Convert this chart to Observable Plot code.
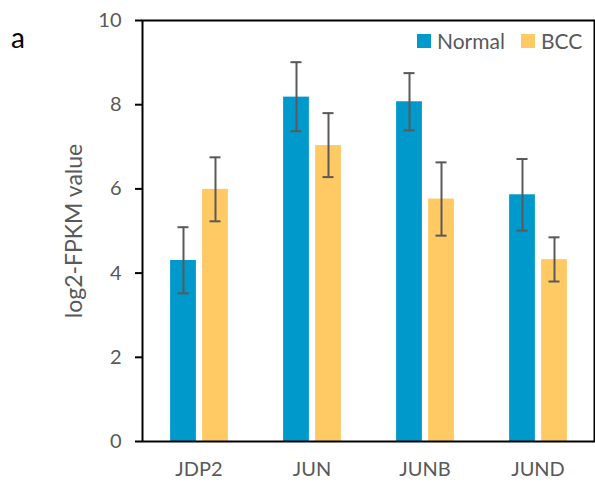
<!DOCTYPE html>
<html><head><meta charset="utf-8">
<script src="https://cdn.jsdelivr.net/npm/d3@7"></script>
<script src="https://cdn.jsdelivr.net/npm/@observablehq/plot@0.6"></script>
<style>
body{margin:0;background:#fff;font-family:Lato,sans-serif;}
#wrap{position:relative;width:595px;height:483px;}
#panel{position:absolute;left:11px;top:23px;font-size:28px;line-height:1;color:#000;}
#legend{position:absolute;left:417px;top:30px;font-size:21px;line-height:1;color:#595959;display:flex;align-items:center;}
.sw{display:inline-block;width:14px;height:14px;margin-right:6px;}
</style></head><body>
<div id="wrap"><div id="panel">a</div><div id="legend"></div></div>
<script>
const genes = ["JDP2", "JUN", "JUNB", "JUND"];
const series = ["Normal", "BCC"];
const normalMean = [4.30, 8.18, 8.07, 5.86];
const normalHi   = [5.09, 9.01, 8.75, 6.71];
const normalLo   = [3.52, 7.37, 7.39, 5.01];
const bccMean    = [5.99, 7.03, 5.76, 4.32];
const bccHi      = [6.75, 7.80, 6.63, 4.85];
const bccLo      = [5.23, 6.28, 4.89, 3.80];
const colors = ["#0099CC", "#FFCA64"];
const yTicks = [0, 2, 4, 6, 8, 10];

const normal = genes.map((g, i) => ({gene: g, v: normalMean[i], lo: normalLo[i], hi: normalHi[i]}));
const bcc = genes.map((g, i) => ({gene: g, v: bccMean[i], lo: bccLo[i], hi: bccHi[i]}));

const errCol = "#595959";
function group(data, fill, dx) {
  return [
    Plot.barY(data, {x: "gene", y: "v", fill, insetLeft: 43.6, insetRight: 43.6, dx}),
    Plot.ruleX(data, {x: "gene", y1: "lo", y2: "hi", stroke: errCol, strokeWidth: 2, dx}),
    Plot.tickY(data, {x: "gene", y: "lo", stroke: errCol, strokeWidth: 2, insetLeft: 51, insetRight: 51, dx}),
    Plot.tickY(data, {x: "gene", y: "hi", stroke: errCol, strokeWidth: 2, insetLeft: 51, insetRight: 51, dx})
  ];
}

const chart = Plot.plot({
  width: 595, height: 483,
  marginLeft: 142, marginTop: 20, marginRight: 1, marginBottom: 42,
  style: {fontFamily: "Lato, sans-serif", fontSize: "20px", color: "#595959", background: "transparent"},
  x: {domain: genes, padding: 0, label: null},
  y: {domain: [0, 10], label: null},
  marks: [
    ...group(normal, colors[0], -15.5),
    ...group(bcc, colors[1], 16.5),
    Plot.axisX({tickSize: 0, tickPadding: 20, label: null, fontSize: 20, fill: "#595959"}),
    Plot.axisY({ticks: yTicks, tickSize: 7, tickPadding: 14, fontSize: 20, fill: "#595959", stroke: "#000", strokeWidth: 2, label: null}),
    Plot.text(["log2-FPKM value"], {frameAnchor: "left", dx: -68, rotate: -90, textAnchor: "middle", fontSize: 23, fill: "#595959"}),
    Plot.frame({stroke: "#000", strokeWidth: 2})
  ]
});
const wrap = document.getElementById("wrap");
chart.style.position = "absolute"; chart.style.left = "0"; chart.style.top = "0";
wrap.insertBefore(chart, wrap.firstChild);
const lg = document.getElementById("legend");
series.forEach((s, i) => {
  const item = document.createElement("span");
  item.style.display = "inline-flex"; item.style.alignItems = "center";
  item.style.marginRight = i === 0 ? "16px" : "0";
  item.innerHTML = `<span class="sw" style="background:${colors[i]}"></span>${s}`;
  lg.appendChild(item);
});
</script></body></html>
